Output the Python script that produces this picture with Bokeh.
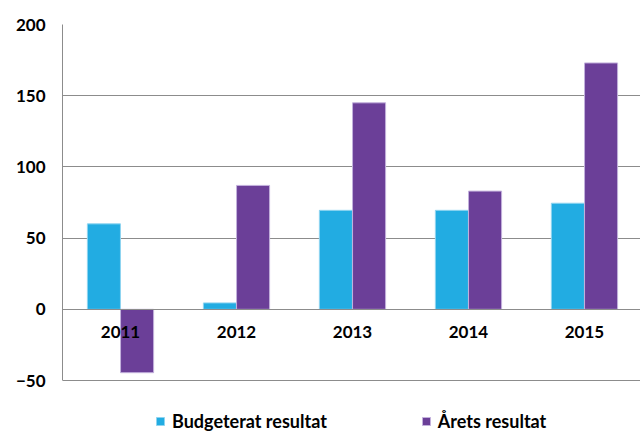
from bokeh.plotting import figure
from bokeh.models import ColumnDataSource, Range1d, Legend, LegendItem
from bokeh.transform import dodge
from bokeh.embed import file_html
from bokeh.resources import INLINE

years = ["2011", "2012", "2013", "2014", "2015"]
budgeterat = [60, 4.5, 69.5, 69.5, 74.5]
arets = [-44.5, 87, 145, 83, 173]
series_names = ["Budgeterat resultat", "Årets resultat"]
y_ticks = [-50, 0, 50, 100, 150, 200]

FONT = "Lato"
BLUE = "#22ace2"
PURPLE = "#6b3f98"

xs = list(range(len(years)))
src = ColumnDataSource(dict(x=xs, b=budgeterat, a=arets))

p = figure(width=640, height=432, x_range=Range1d(-0.5, 4.483),
           y_range=Range1d(-86.5, 200), output_backend="svg",
           toolbar_location=None, tools="")
p.min_border_left = 62
p.min_border_right = 0
p.min_border_top = 24
p.min_border_bottom = 0
p.outline_line_color = None
p.background_fill_color = "white"
p.border_fill_color = "white"

r1 = p.vbar(x=dodge("x", -0.143), top="b", width=0.285,
            source=src, fill_color=BLUE, line_color="#8fd4f0", line_width=1)
r2 = p.vbar(x=dodge("x", 0.143), top="a", width=0.285,
            source=src, fill_color=PURPLE, line_color="#c3b1dc", line_width=1)

# y axis
p.yaxis.ticker = y_ticks
p.yaxis.bounds = (-50, 200)
p.yaxis.axis_line_color = "#8c8c8c"
p.yaxis.major_tick_line_color = None
p.yaxis.minor_tick_line_color = None
p.yaxis.major_label_text_font = FONT
p.yaxis.major_label_text_font_style = "bold"
p.yaxis.major_label_text_font_size = "17px"
p.yaxis.major_label_text_color = "black"
p.yaxis.major_label_standoff = 11

p.ygrid.ticker = y_ticks
p.ygrid.grid_line_color = "#8c8c8c"
p.ygrid.grid_line_width = 1
p.xgrid.grid_line_color = None

# x axis at zero
p.xaxis.fixed_location = 0
p.xaxis.ticker = xs
p.xaxis.major_label_overrides = {i: y for i, y in zip(xs, years)}
p.xaxis.axis_line_color = "#8c8c8c"
p.xaxis.major_tick_line_color = None
p.xaxis.minor_tick_line_color = None
p.xaxis.major_label_text_font = FONT
p.xaxis.major_label_text_font_style = "bold"
p.xaxis.major_label_text_font_size = "17px"
p.xaxis.major_label_text_color = "black"
p.xaxis.major_label_standoff = 11

legend = Legend(items=[LegendItem(label=series_names[0], renderers=[r1]),
                       LegendItem(label=series_names[1], renderers=[r2])],
                orientation="horizontal", location=(93, 0),
                background_fill_alpha=0, border_line_color=None,
                label_text_font=FONT, label_text_font_style="bold",
                label_text_font_size="18px", label_text_color="black",
                glyph_width=10, glyph_height=10, label_standoff=7,
                spacing=94, padding=0, margin=0)
p.add_layout(legend, "center")

open("out.html", "w").write(file_html(p, INLINE))
